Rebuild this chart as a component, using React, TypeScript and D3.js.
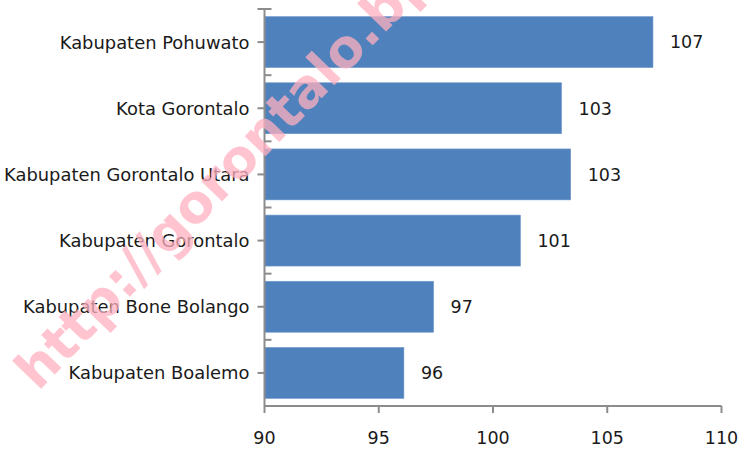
import { useEffect, useRef } from "react";
import * as d3 from "d3";

const categories = [
  "Kabupaten Pohuwato",
  "Kota Gorontalo",
  "Kabupaten Gorontalo Utara",
  "Kabupaten Gorontalo",
  "Kabupaten Bone Bolango",
  "Kabupaten Boalemo",
];
const values = [107.0, 103.0, 103.4, 101.2, 97.4, 96.1];
const xTicks = [90, 95, 100, 105, 110];
const watermark = "http://gorontalo.bps.go.id";

const FONT = "'DejaVu Sans', Verdana, sans-serif";
const BAR = "#4f81bd";
const AXIS = "#8c8c8c";
const FS = 17.5;

export default function App() {
  const svgRef = useRef<SVGSVGElement>(null);

  useEffect(() => {
    const el = svgRef.current;
    if (!el) return;
    const W = 742, H = 449;
    const m = { top: 9, right: 20, bottom: 43, left: 264.5 };
    const iW = W - m.left - m.right;
    const iH = H - m.top - m.bottom;

    const svg = d3.select(el);
    svg.selectAll("*").remove();
    const g = svg.append("g").attr("transform", `translate(${m.left},${m.top})`);

    const x = d3.scaleLinear().domain([90, 110]).range([0, iW - 0.5]);
    const y = d3.scaleBand().domain(categories).range([0, iH]).paddingInner(0.23).paddingOuter(0.115);
    const band = d3.scaleBand().domain(categories).range([0, iH]);
    const fmt = d3.format(".0f");

    // bars
    g.selectAll("rect.bar").data(values).join("rect")
      .attr("class", "bar")
      .attr("x", 0.5)
      .attr("y", (_, i) => y(categories[i])!)
      .attr("width", d => x(d) - 0.5)
      .attr("height", y.bandwidth())
      .attr("fill", BAR)
      .attr("stroke", "#6f98cb").attr("stroke-width", 0.6);

    // value labels
    g.selectAll("text.val").data(values).join("text")
      .attr("class", "val")
      .attr("x", d => x(d) + 17)
      .attr("y", (_, i) => y(categories[i])! + y.bandwidth() / 2)
      .attr("dy", "0.36em")
      .attr("font-family", FONT).attr("font-size", FS).attr("fill", "#1a1a1a")
      .text(d => fmt(d));

    // y axis
    const ya = g.append("g");
    ya.append("line").attr("x1", 0).attr("x2", 0).attr("y1", 0).attr("y2", iH)
      .attr("stroke", AXIS).attr("stroke-width", 2);
    const bounds = categories.map(c => band(c)!).concat([iH]);
    ya.selectAll("line.bt").data(bounds).join("line")
      .attr("class", "bt")
      .attr("x1", (_, i) => (i === 0 ? -7 : 0)).attr("x2", 7)
      .attr("y1", d => d).attr("y2", d => d)
      .attr("stroke", AXIS).attr("stroke-width", 2);
    ya.selectAll("line.ct").data(categories).join("line")
      .attr("class", "ct")
      .attr("x1", -7).attr("x2", 0)
      .attr("y1", c => band(c)! + band.bandwidth() / 2)
      .attr("y2", c => band(c)! + band.bandwidth() / 2)
      .attr("stroke", AXIS).attr("stroke-width", 2);
    ya.selectAll("text").data(categories).join("text")
      .attr("x", -15)
      .attr("y", c => band(c)! + band.bandwidth() / 2)
      .attr("dy", "0.36em")
      .attr("text-anchor", "end")
      .attr("font-family", FONT).attr("font-size", 17.9).attr("fill", "#1a1a1a")
      .text(c => c);

    // x axis
    const xa = g.append("g").attr("transform", `translate(0,${iH})`);
    xa.append("line").attr("x1", 0).attr("x2", x(110)).attr("y1", 0).attr("y2", 0)
      .attr("stroke", AXIS).attr("stroke-width", 2);
    xa.selectAll("line.t").data(xTicks).join("line")
      .attr("class", "t")
      .attr("x1", d => x(d)).attr("x2", d => x(d))
      .attr("y1", 0).attr("y2", 7)
      .attr("stroke", AXIS).attr("stroke-width", 2);
    xa.selectAll("text").data(xTicks).join("text")
      .attr("x", d => x(d))
      .attr("y", 32)
      .attr("dy", "0.36em")
      .attr("text-anchor", "middle")
      .attr("font-family", FONT).attr("font-size", FS).attr("fill", "#1a1a1a")
      .text(d => String(d));

    // watermark
    svg.append("text")
      .attr("transform", "translate(38,392) rotate(-46)")
      .attr("font-family", "'DejaVu Sans', Verdana, sans-serif")
      .attr("font-weight", "bold")
      .attr("font-size", 53)
      .attr("fill", "#ffb0bf")
      .attr("fill-opacity", 0.75)
      .text(watermark);
  }, []);

  return (
    <div style={{ position: "absolute", left: 0, top: 0, width: 742, height: 449, background: "#fff" }}>
      <svg ref={svgRef} width={742} height={449} style={{ display: "block" }} />
    </div>
  );
}
